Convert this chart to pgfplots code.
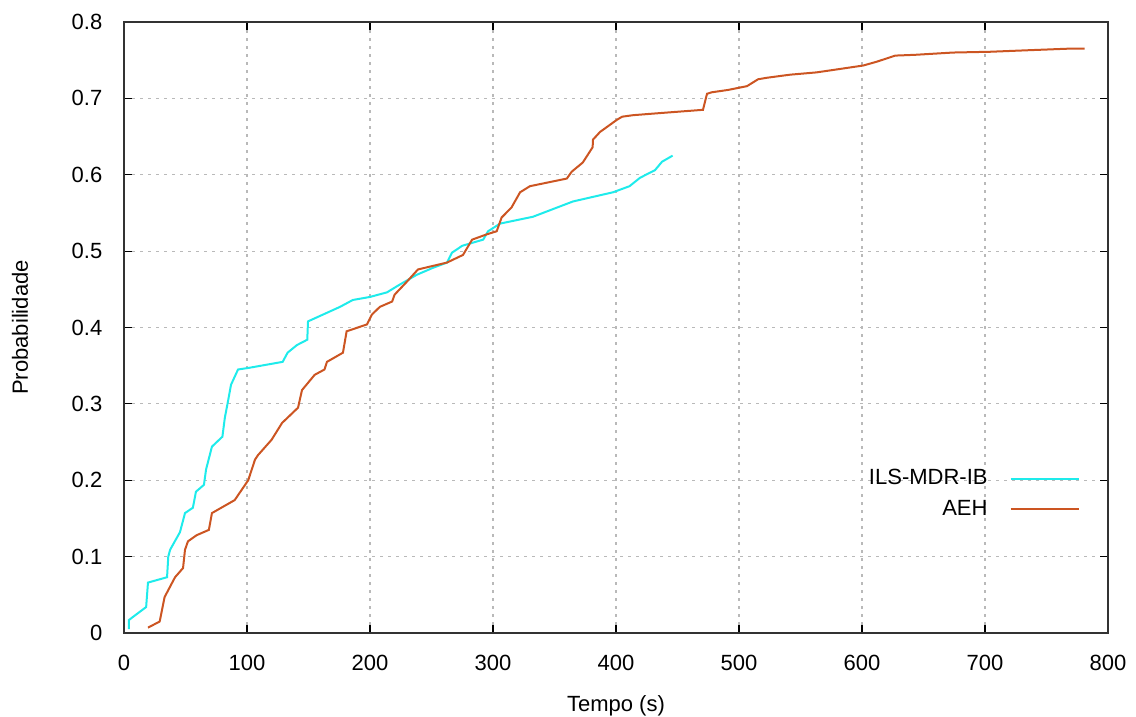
\documentclass[border=0pt]{standalone}
\usepackage{pgfplots}
\pgfplotsset{compat=1.18}
\usepackage{fontspec}
\setmainfont{Liberation Sans}
\definecolor{ccyan}{RGB}{30,235,235}
\definecolor{corange}{RGB}{204,85,34}
\begin{document}
\fontsize{11}{13}\selectfont
\begin{tikzpicture}
\begin{axis}[
  name=ax,
  scale only axis,
  width=492pt, height=305.5pt,
  xmin=0, xmax=800, ymin=0, ymax=0.8,
  xtick={0,100,...,800},
  ytick={0,0.1,0.2,0.3,0.4,0.5,0.6,0.7,0.8},
  yticklabels={0,0.1,0.2,0.3,0.4,0.5,0.6,0.7,0.8},
  /pgf/number format/assume math mode=true,
  tick align=inside,
  major tick length=4pt,
  tick style={black, line width=0.6pt},
  axis line style={black!80, line width=0.8pt},
  grid=major,
  major grid style={gray!55, line width=0.6pt, dash pattern=on 1.5pt off 2.5pt},
  xticklabel style={yshift=-7pt},
  yticklabel style={xshift=-7pt},
  xlabel={Tempo (s)},
  ylabel={Probabilidade},
  xlabel style={at={(axis description cs:0.5,-0.1195)}, anchor=center},
  ylabel style={at={(axis description cs:-0.1057,0.5)}, anchor=center, rotate=0},
  legend plot pos=right,
  legend cell align=right,
  legend style={draw=none, fill=none, at={(axis description cs:0.9715,0.275)}, anchor=north east,
    inner sep=0pt, row sep=2pt, nodes={inner sep=2pt}, /tikz/column 1/.style={column sep=9pt}},
  legend image code/.code={\draw[#1] (0pt,0pt) -- (34pt,0pt);},
]
\addplot[ccyan, line width=1pt] coordinates {
(4,0.005) (4,0.017) (18,0.034) (19.5,0.066) (35,0.073) (36,0.1) (37.5,0.109) (45.5,0.132)
(49.6,0.157) (56,0.164) (58.5,0.185) (65,0.194) (66.7,0.214) (71.5,0.244) (80,0.257)
(82,0.282) (84.5,0.303) (87,0.325) (92.7,0.345) (101,0.347) (129,0.355) (133,0.367)
(140.6,0.377) (149,0.384) (149.6,0.408) (175.6,0.427) (186,0.436) (200,0.44) (213.8,0.446)
(224,0.456) (238,0.469) (251,0.478) (262.6,0.485) (266.7,0.498) (275,0.507) (292,0.515)
(296,0.526) (305.7,0.536) (332.5,0.545) (365,0.565) (397.5,0.577) (411,0.585) (419.5,0.596)
(431.7,0.606) (437.4,0.617) (446,0.625)
};
\addlegendentry{ILS-MDR-IB}
\addplot[corange, line width=1pt] coordinates {
(19.5,0.007) (29,0.015) (33,0.047) (41.5,0.073) (48,0.085) (49.6,0.109) (52,0.12) (59,0.128)
(69,0.135) (71.5,0.157) (90,0.174) (101,0.2) (106.5,0.227) (109,0.233) (120,0.253)
(128.5,0.275) (141.5,0.295) (144.7,0.318) (155,0.338) (163,0.345) (165,0.355) (178,0.367)
(181,0.395) (197.5,0.404) (201.6,0.417) (208,0.427) (218,0.434) (220,0.443) (230,0.46)
(239,0.476) (262.6,0.485) (275.6,0.495) (283,0.515) (295,0.522) (303,0.526) (307,0.544)
(315,0.557) (322,0.577) (330,0.585) (360,0.595) (364,0.604) (373,0.616) (381,0.636)
(381.3,0.646) (387,0.656) (400.8,0.672) (405,0.676) (414,0.678) (438,0.681) (462.6,0.684)
(470.7,0.685) (474,0.706) (478,0.708) (491,0.711) (506.5,0.716) (515.5,0.725) (522.8,0.727)
(541.5,0.731) (563,0.734) (580,0.738) (601,0.743) (612,0.748) (627,0.756) (643,0.757)
(674,0.76) (704,0.761) (735,0.763) (767,0.765) (781,0.765)
};
\addlegendentry{AEH}
\end{axis}
\pgfresetboundingbox
\path[use as bounding box] ([shift={(-62pt,-42pt)}]ax.south west) rectangle ([shift={(14pt,11pt)}]ax.north east);
\end{tikzpicture}
\end{document}
